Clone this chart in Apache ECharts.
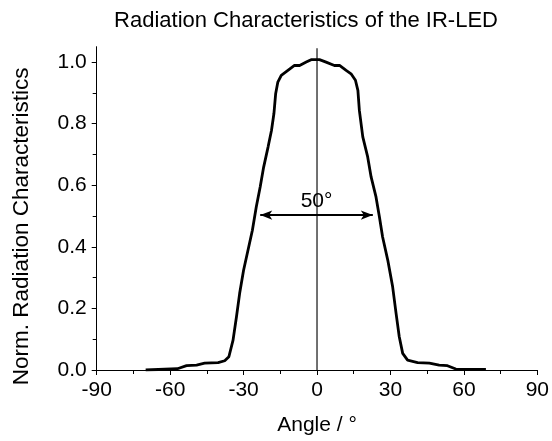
<!DOCTYPE html>
<html>
<head>
<meta charset="utf-8">
<script src="https://cdn.jsdelivr.net/npm/echarts@6/dist/echarts.min.js"></script>
<style>
  html, body { margin: 0; padding: 0; background: #fff; }
  #chart { width: 552px; height: 441px; }
</style>
</head>
<body>
<div id="chart"></div>
<script>
  // measured profile, angle in degrees
  const angles = [-70, -57, -53.3, -49.2, -45.9, -40.4, -37.7, -36.0, -34.3, -32.9, -31.6, -30.0,
    -28.2, -26.4, -24.8, -23.2, -21.8, -20.0, -18.6, -17.6, -16.9, -16.0, -14.6, -11.9, -9.2, -7.1,
    -4.4, -2.4, 1.0, 3.7, 7.1, 9.2, 11.9, 13.9, 15.7, 16.7, 17.3, 18.7, 20.7, 22.1, 24.1, 25.5, 26.8,
    28.9, 30.9, 32.3, 33.6, 35.0, 37.0, 41.1, 45.9, 49.9, 53.3, 56.7, 69.0]
  const intensity = [0.0, 0.004, 0.014, 0.016, 0.022, 0.024, 0.030, 0.043, 0.097, 0.173, 0.249, 0.324,
    0.389, 0.454, 0.530, 0.595, 0.659, 0.724, 0.778, 0.833, 0.897, 0.935, 0.957, 0.973, 0.989, 0.989,
    1.0, 1.008, 1.008, 1.0, 0.989, 0.989, 0.973, 0.962, 0.941, 0.908, 0.843, 0.757, 0.692, 0.627, 0.562,
    0.497, 0.432, 0.357, 0.270, 0.184, 0.108, 0.054, 0.032, 0.024, 0.022, 0.016, 0.014, 0.003, 0.002]

  const yTicks = [0, 0.2, 0.4, 0.6, 0.8, 1.0]
  const yMinorTicks = [0.1, 0.3, 0.5, 0.7, 0.9]

  // annotation: centre line, half-angle arrow and its label
  const centerLineX = [0, 0]
  const centerLineY = [0, 1.045]
  const arrowX = [-23.2, 22.8]
  const arrowY = 0.503
  const arrowLabel = '50°'

  const font = 'Liberation Sans, Arial, sans-serif'

  const chart = echarts.init(document.getElementById('chart'))
  chart.setOption({
    animation: false,
    title: {
      text: 'Radiation Characteristics of the IR-LED',
      left: 301,
      top: 5,
      textAlign: 'center',
      textStyle: { fontFamily: font, fontSize: 22, fontWeight: 'normal', color: '#000' }
    },
    grid: { left: 96.7, right: 13.7, top: 46.7, bottom: 71 },
    xAxis: {
      type: 'value',
      min: -90,
      max: 90,
      interval: 30,
      name: 'Angle / °',
      nameLocation: 'middle',
      nameGap: 45,
      nameTextStyle: { fontFamily: font, fontSize: 21, color: '#000' },
      axisLine: { onZero: false, lineStyle: { color: '#000', width: 1 } },
      axisTick: { length: 5, lineStyle: { color: '#000' } },
      minorTick: { show: true, splitNumber: 2, length: 4, lineStyle: { color: '#000' } },
      axisLabel: { fontFamily: font, fontSize: 21, color: '#000', margin: 10 },
      splitLine: { show: false }
    },
    yAxis: [{
      type: 'value',
      min: 0,
      max: 1.05,
      name: 'Norm. Radiation Characteristics',
      nameLocation: 'middle',
      nameGap: 63,
      nameTextStyle: { fontFamily: font, fontSize: 22.5, color: '#000', padding: [0, 36, 0, 0] },
      axisLine: { show: true, onZero: false, lineStyle: { color: '#000', width: 1 } },
      axisTick: { show: true, length: 5, customValues: yTicks, lineStyle: { color: '#000' } },
      axisLabel: {
        fontFamily: font, fontSize: 21, color: '#000', margin: 10,
        customValues: yTicks,
        formatter: v => v.toFixed(1)
      },
      splitLine: { show: false }
    }, {
      type: 'value',
      position: 'left',
      min: 0,
      max: 1.05,
      axisLine: { show: false, onZero: false },
      axisTick: { show: true, length: 4, customValues: yMinorTicks, lineStyle: { color: '#000' } },
      axisLabel: { show: false },
      splitLine: { show: false }
    }],
    series: [{
      type: 'line',
      data: centerLineX.map((x, i) => [x, centerLineY[i]]),
      symbol: 'none',
      lineStyle: { color: '#111', width: 1.2 },
      emphasis: { disabled: true },
      z: 1
    }, {
      type: 'line',
      data: angles.map((a, i) => [a, intensity[i]]),
      symbol: 'none',
      lineStyle: { color: '#000', width: 2.8 },
      emphasis: { disabled: true },
      z: 3,
      markLine: {
        silent: true,
        symbol: ['arrow', 'arrow'],
        symbolSize: [7, 12],
        label: {
          show: true,
          position: 'insideMiddleTop',
          distance: 3,
          formatter: arrowLabel,
          fontFamily: font,
          fontSize: 21,
          color: '#000'
        },
        lineStyle: { color: '#000', width: 1.8, type: 'solid' },
        data: [[{ coord: [arrowX[0], arrowY] }, { coord: [arrowX[1], arrowY] }]]
      }
    }]
  })
</script>
</body>
</html>
